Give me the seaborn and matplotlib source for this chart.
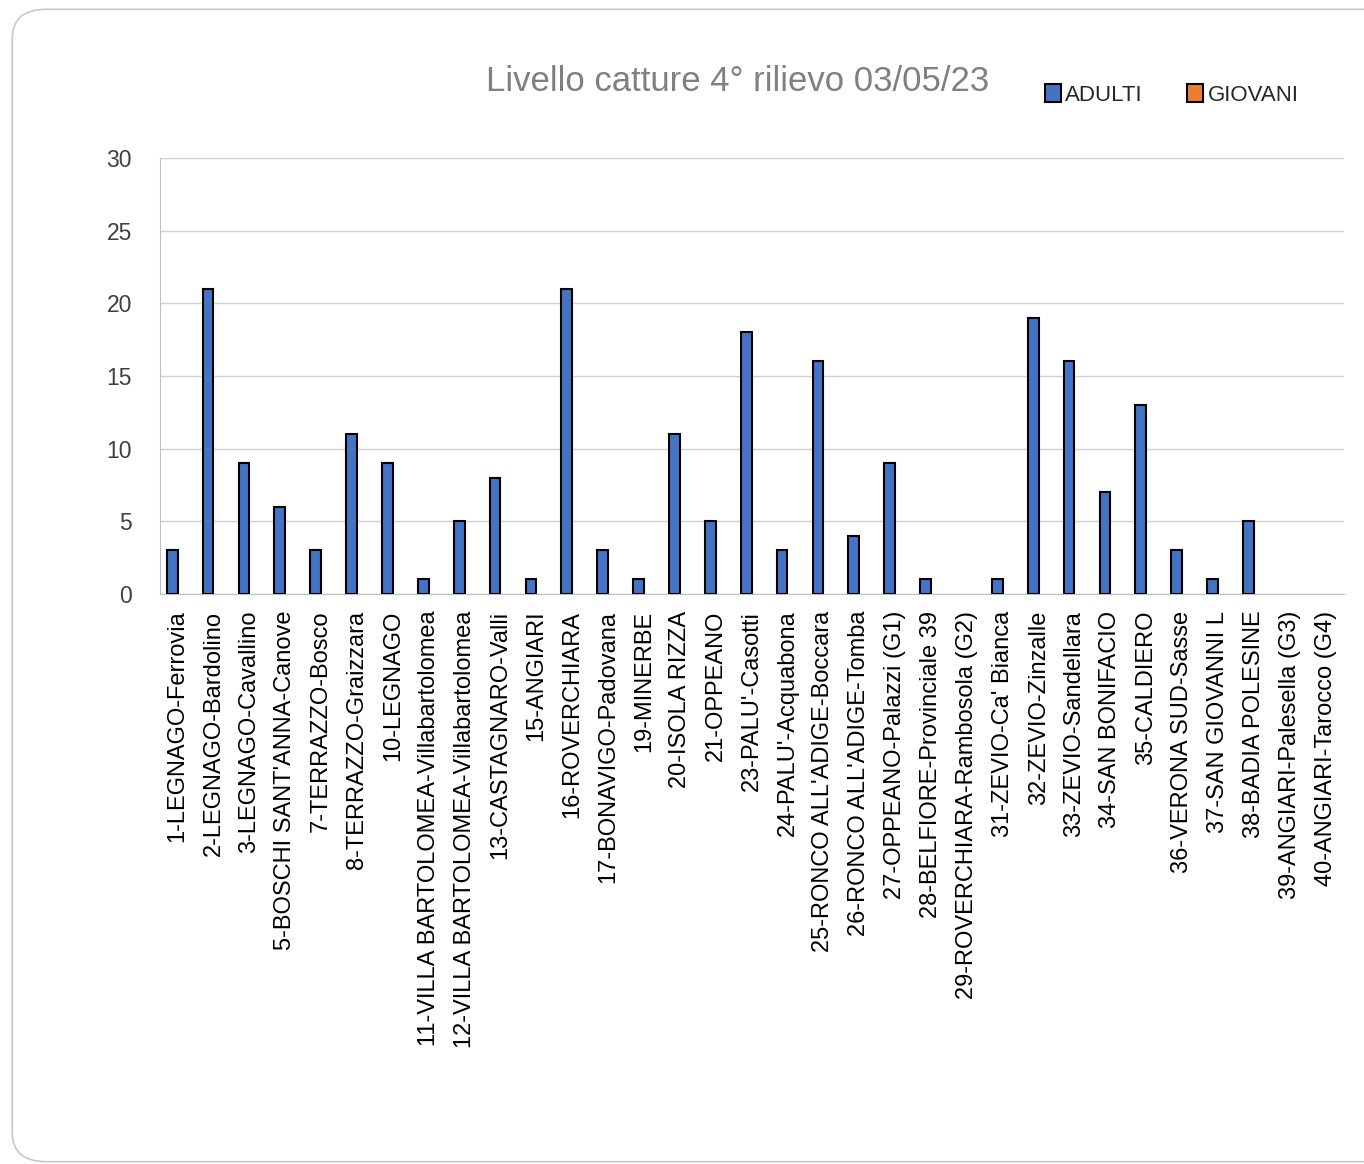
import pandas as pd
import seaborn as sns
import matplotlib.pyplot as plt
from matplotlib.patches import FancyBboxPatch

# Data
stations = [
    "1-LEGNAGO-Ferrovia", "2-LEGNAGO-Bardolino", "3-LEGNAGO-Cavallino",
    "5-BOSCHI SANT'ANNA-Canove", "7-TERRAZZO-Bosco", "8-TERRAZZO-Graizzara",
    "10-LEGNAGO", "11-VILLA BARTOLOMEA-Villabartolomea",
    "12-VILLA BARTOLOMEA-Villabartolomea", "13-CASTAGNARO-Valli",
    "15-ANGIARI", "16-ROVERCHIARA", "17-BONAVIGO-Padovana", "19-MINERBE",
    "20-ISOLA RIZZA", "21-OPPEANO", "23-PALU'-Casotti", "24-PALU'-Acquabona",
    "25-RONCO ALL'ADIGE-Boccara", "26-RONCO ALL'ADIGE-Tomba",
    "27-OPPEANO-Palazzi (G1)", "28-BELFIORE-Provinciale 39",
    "29-ROVERCHIARA-Rambosola (G2)", "31-ZEVIO-Ca' Bianca", "32-ZEVIO-Zinzalle",
    "33-ZEVIO-Sandellara", "34-SAN BONIFACIO", "35-CALDIERO",
    "36-VERONA SUD-Sasse", "37-SAN GIOVANNI L", "38-BADIA POLESINE",
    "39-ANGIARI-Palesella (G3)", "40-ANGIARI-Tarocco (G4)",
]
adulti = [3, 21, 9, 6, 3, 11, 9, 1, 5, 8, 1, 21, 3, 1, 11, 5, 18, 3, 16, 4,
          9, 1, 0, 1, 19, 16, 7, 13, 3, 1, 5, 0, 0]
giovani = [0] * len(stations)

df = pd.DataFrame({"stazione": stations, "ADULTI": adulti, "GIOVANI": giovani})
df_long = df.melt(id_vars="stazione", var_name="classe", value_name="catture")

sns.set_style("white")
plt.rcParams['font.family'] = ['Liberation Sans', 'DejaVu Sans']

fig = plt.figure(figsize=(13.64, 11.64), dpi=100)
ax = fig.add_axes([0.117, 0.4897, 0.868, 0.3747])

# rounded outer frame
frame = FancyBboxPatch((0.009, 0.002), 1.02, 0.99, boxstyle="round,pad=0,rounding_size=0.025",
                       transform=fig.transFigure, fill=False, edgecolor="#c8c8c8", linewidth=1.2)
fig.patches.append(frame)

sns.barplot(data=df_long, x="stazione", y="catture", hue="classe",
            palette={"ADULTI": "#4472C4", "GIOVANI": "#ED7D31"}, saturation=1,
            width=0.6, edgecolor="black", linewidth=1.5, ax=ax, legend=True)

# empty bars are not drawn in the original
for bar in ax.patches:
    if bar.get_height() == 0:
        bar.set_visible(False)

ax.set_ylim(0, 30)
ax.set_yticks(range(0, 31, 5))
ax.set_xlim(-0.5, len(stations) - 0.5)
ax.yaxis.grid(True, color="#d0d0d0", linewidth=1)
ax.set_axisbelow(True)
for s in ["top", "right"]:
    ax.spines[s].set_visible(False)
ax.spines["left"].set_color("#bfbfbf")
ax.spines["bottom"].set_color("#bfbfbf")
ax.set_xlabel("")
ax.set_ylabel("")
ax.tick_params(axis="y", length=0, labelsize=16.5, labelcolor="#404040", pad=20)
ax.tick_params(axis="x", length=0, labelsize=17, labelcolor="black", pad=12)
plt.setp(ax.get_xticklabels(), rotation=90)

fig.text(0.541, 0.93, "Livello catture 4° rilievo 03/05/23", ha="center", va="center",
         fontsize=25, color="#808080")

handles, labels = ax.get_legend_handles_labels()
for h in handles:
    h.set_visible(True)
ax.legend(handles, labels, loc="center", bbox_to_anchor=(0.855, 1.145), ncol=2,
          frameon=False, fontsize=16, handlelength=0.7, handleheight=0.9,
          handletextpad=0.2, columnspacing=2.0)

fig.savefig("out.png", dpi=100)
